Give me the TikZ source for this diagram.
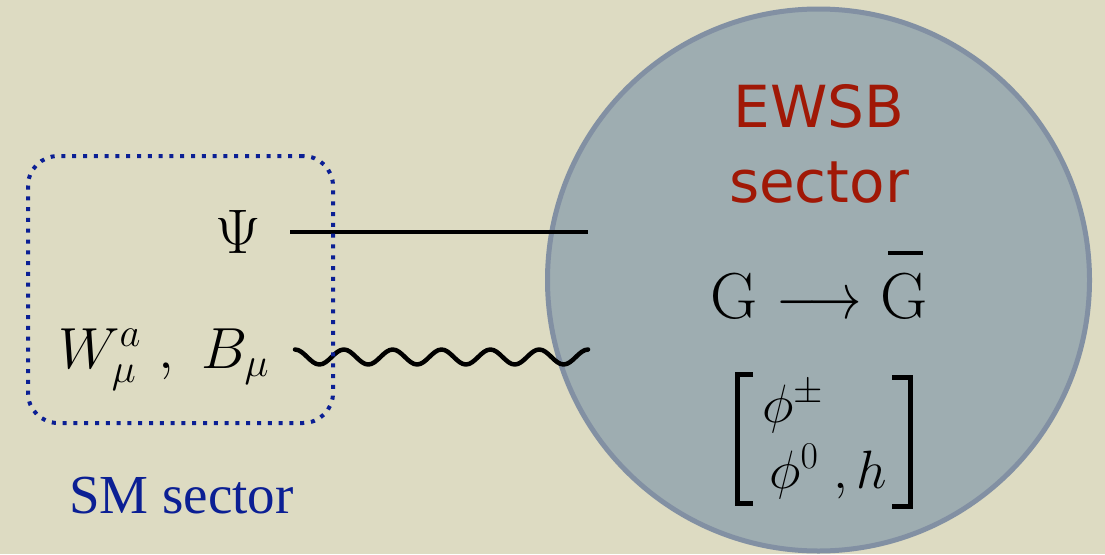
\RequirePackage{fix-cm}
\documentclass[tikz,border=0pt]{standalone}
\usepackage{fontspec}
\usepackage{amsmath}
\usepackage{graphicx}
\usepackage{tikz}
\usetikzlibrary{positioning,calc}
\newfontfamily\comicfont{DejaVu Sans}
\newfontfamily\smfont{Liberation Serif}
\definecolor{paper}{HTML}{DDDBC2}
\definecolor{disc}{HTML}{9EADB1}
\definecolor{discrim}{HTML}{8290A3}
\definecolor{smblue}{HTML}{0B1F94}
\definecolor{ewsbred}{HTML}{A01806}
\newcommand{\barG}{\mathrm{\rlap{\kern0.12em\rule[0.97em]{0.54em}{0.06em}}G}}
\tikzset{
    every picture/.style={line join=round},
    smbox/.style={draw=smblue,line width=4pt,dash pattern=on 4pt off 6.8pt,
      rounded corners=30pt,minimum width=305pt,minimum height=267pt},
    ewsbdisc/.style={circle,draw=discrim,fill=disc,line width=5pt,
      minimum size=542pt,inner sep=0pt},
    fieldlabel/.style={inner sep=0pt,font=\fontsize{58}{64}\selectfont},
    scalarlabel/.style={inner sep=0pt,font=\fontsize{54}{60}\selectfont},
    ewsblabel/.style={inner sep=0pt,text=ewsbred,font=\comicfont\fontsize{58}{70}\selectfont},
    smlabel/.style={inner sep=0pt,text=smblue,font=\smfont\fontsize{55}{60}\selectfont},
    fermion/.style={draw=black,line width=4.5pt},
    gauge/.style={draw=black,line width=4.5pt,line cap=round},
    bracket/.style={draw=black,line width=5pt,line join=miter}
}

\begin{document}
\begin{tikzpicture}[x=1pt,y=-1pt]
  \fill[paper] (0,0) rectangle (1105,554);
  \useasboundingbox (0,0) rectangle (1105,554);
  \begin{scope}
    \clip (0,0) rectangle (1105,554);
    \node[ewsbdisc] (ewsb) at (818.5,280) {};
  \end{scope}
  % lines into the EWSB sector
  \coordinate (psiL) at (290,232);
  \coordinate (psiR) at (588,232);
  \coordinate (wL) at (295,349.5);
  \draw[fermion] (psiL) -- (psiR);
  \draw[gauge] (wL) \foreach \k in {1,...,6}{
    cos ++(12.21,7.5) sin ++(12.21,7.5) cos ++(12.21,-7.5) sin ++(12.21,-7.5)};
  \node[smbox] (sm) at (180.5,289.5) {};
  % SM fields
  \node[inner sep=0pt,anchor=base east,font=\fontsize{63}{68}\selectfont] (psi) at (261,253) {$\Psi$};
  \node[fieldlabel,anchor=base west] (wb) at (58,368) {$W^a_\mu\ ,\ B_\mu$};
  \node[smlabel,anchor=base west] (smname) at (69,513) {SM sector};
  % EWSB sector
  \node[ewsblabel,anchor=base] (ewsbname) at (819,127) {EWSB};
  \node[ewsblabel,anchor=base] (ewsbsec) at (819,202) {sector};
  \node[inner sep=0pt,anchor=base,font=\fontsize{65}{70}\selectfont] (breaking) at (819,318)
    {$\mathrm{G}\mathrel{\scalebox{0.82}[1]{$\longrightarrow$}}\barG$};
  \node[scalarlabel,anchor=base west] (phipm) at (762,422) {$\phi^{\pm}$};
  \node[scalarlabel,anchor=base west] (phizero) at (769,488) {$\phi^0\;, h$};
  \draw[bracket] (753,374) -- (737.5,374) -- (737.5,503) -- (753,503);
  \draw[bracket] (892,377) -- (910.5,377) -- (910.5,506) -- (892,506);
\end{tikzpicture}
\end{document}
